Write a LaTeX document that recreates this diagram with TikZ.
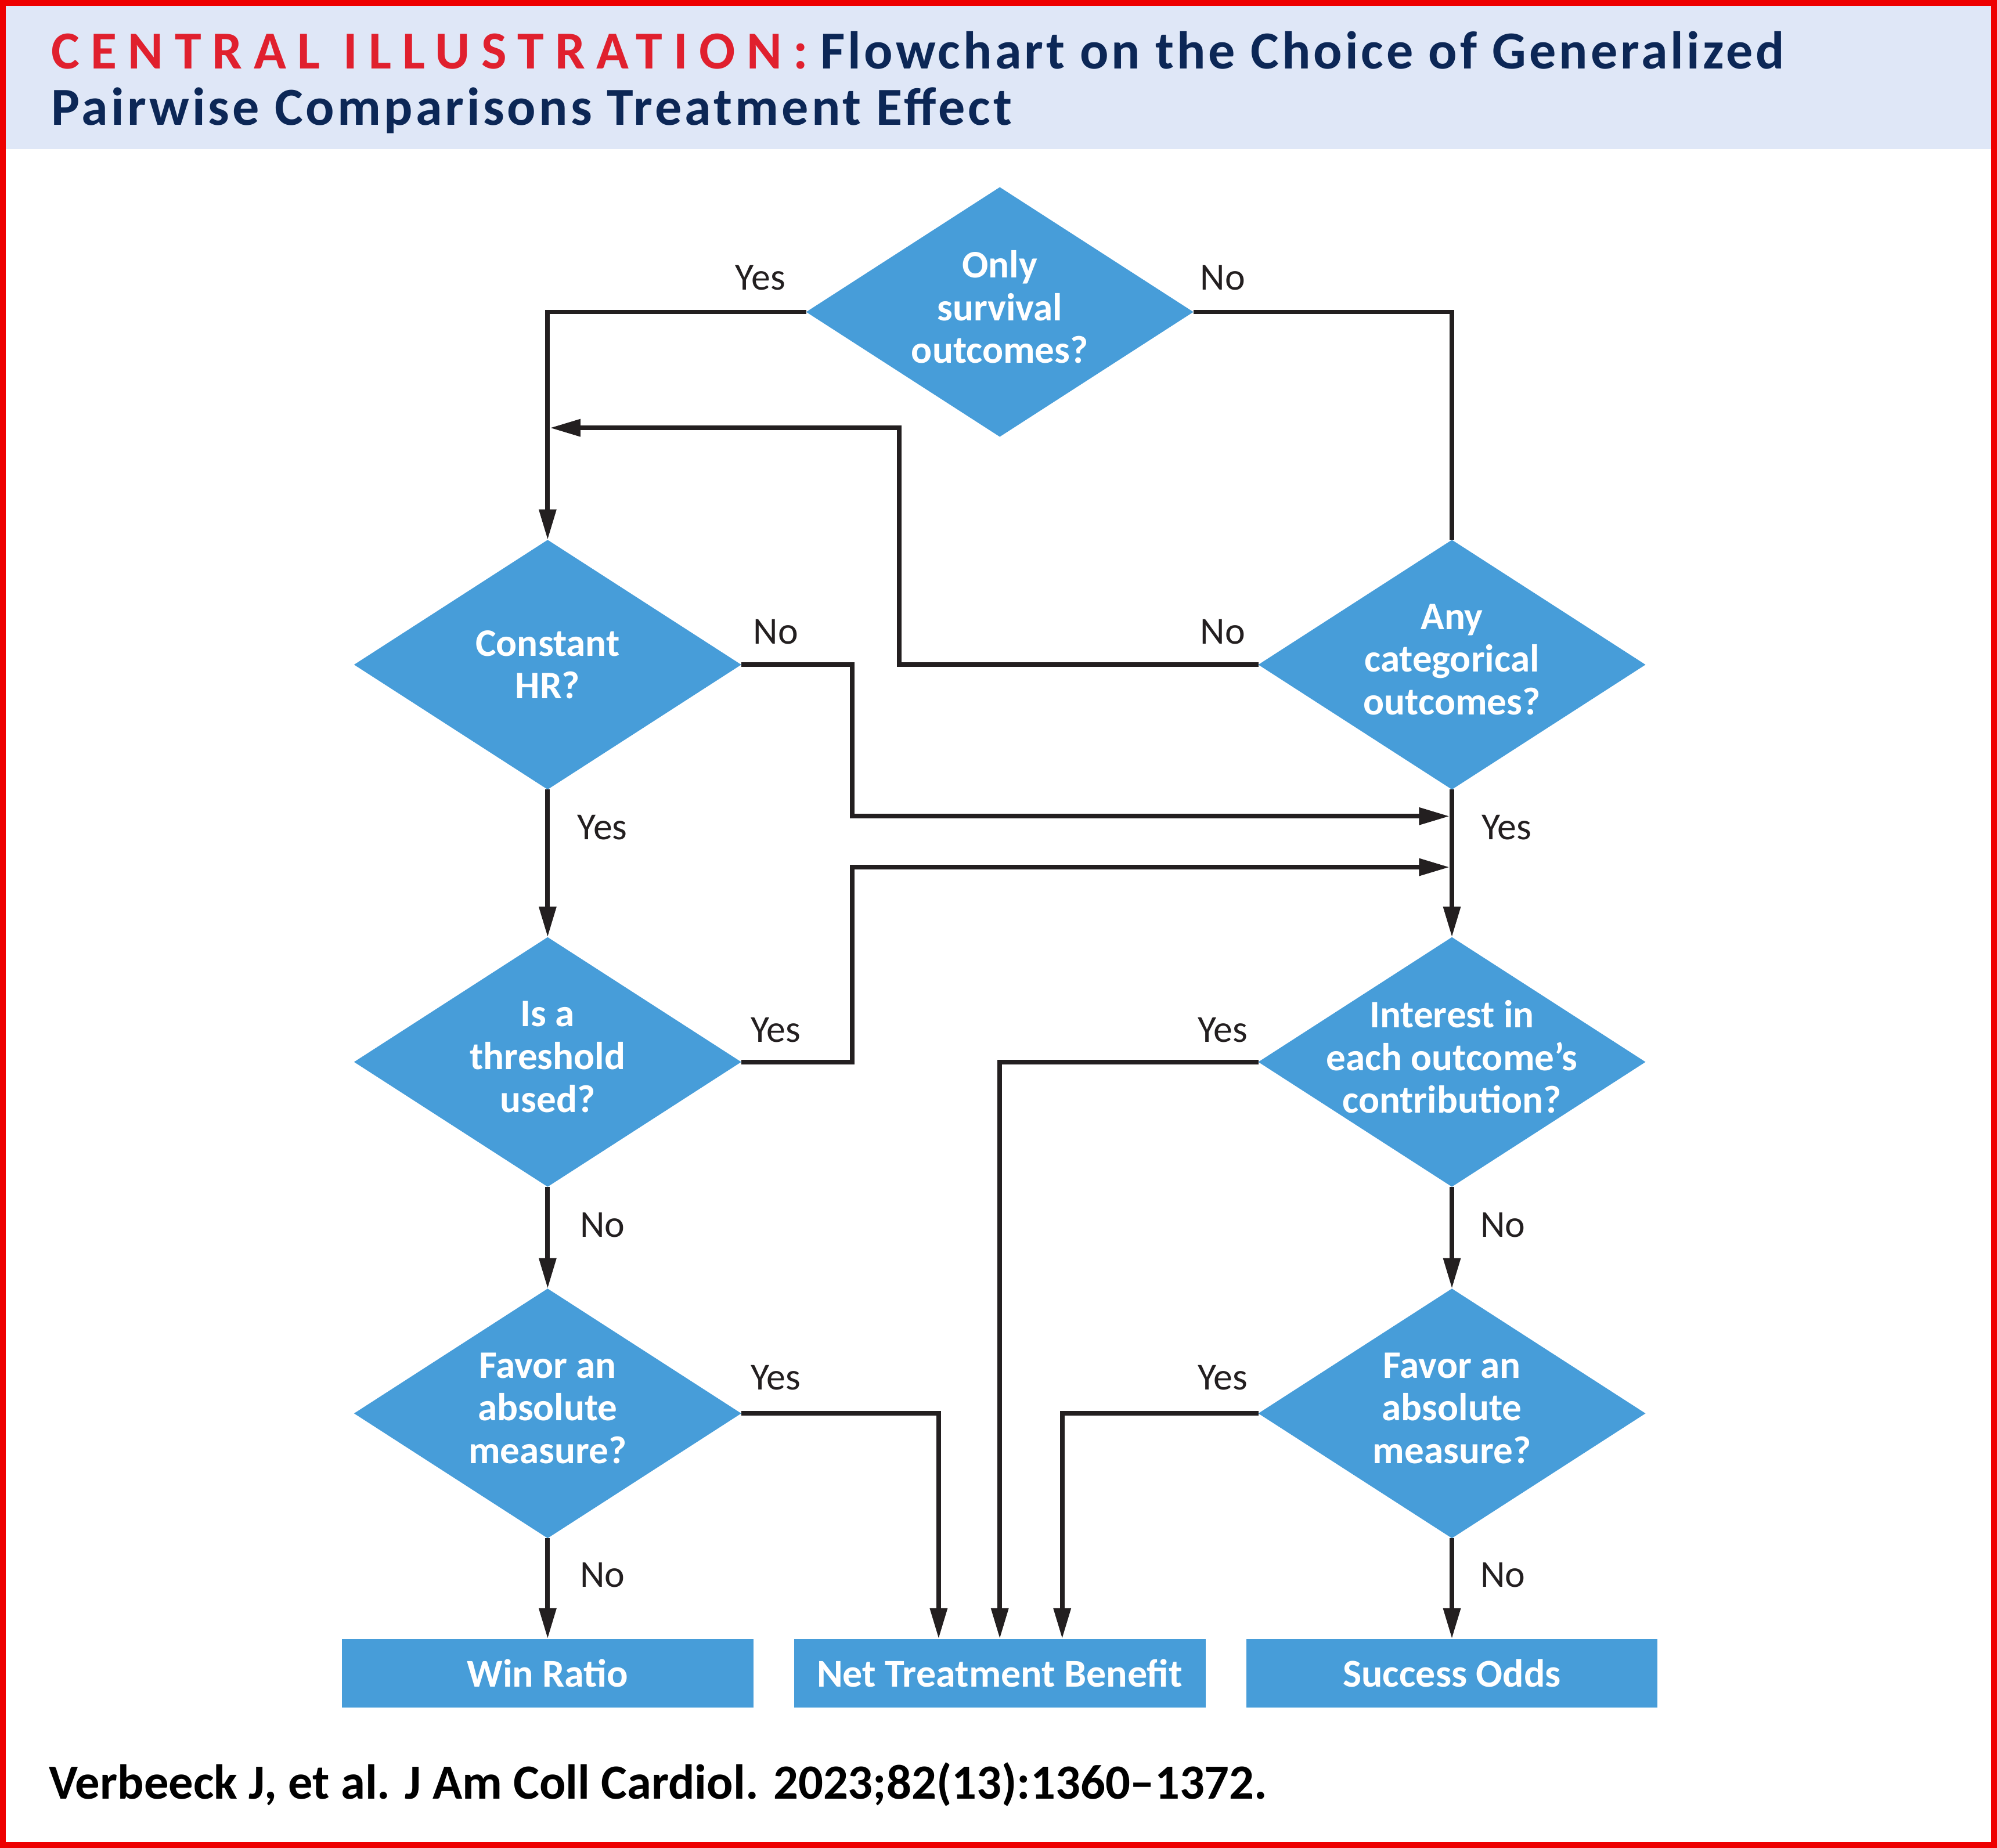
\documentclass[tikz,border=0pt]{standalone}
\usepackage{fontspec}
\setmainfont{Carlito}
\newfontfamily\redtrack{Carlito}[LetterSpace=21]
\newfontfamily\navytrack{Carlito}[LetterSpace=5.5]
\usetikzlibrary{shapes.geometric,arrows.meta}
\definecolor{frame}{HTML}{EE0000}
\definecolor{headbg}{HTML}{DFE7F7}
\definecolor{titlered}{HTML}{E0202E}
\definecolor{navy}{HTML}{0C2756}
\definecolor{fillblue}{HTML}{479DD9}
\definecolor{ink}{HTML}{231F20}
\tikzset{
  dia/.style={shape=diamond, fill=fillblue, draw=none, minimum width=152pt, minimum height=98pt, inner sep=0pt, outer sep=0pt},
  dtxt/.style={text=white, font=\fontsize{15.3}{16.8}\selectfont\bfseries, align=center, inner sep=0pt},
  box/.style={shape=rectangle, fill=fillblue, draw=none, minimum width=161.5pt, minimum height=27pt, inner sep=0pt, outer sep=0pt, text=white, font=\fontsize{15.5}{17}\selectfont\bfseries},
  lbl/.style={text=ink, font=\fontsize{15}{16.5}\selectfont, inner sep=0pt},
  conn/.style={draw=ink, line width=1.8pt, -{Triangle[length=12pt,width=6.5pt]}},
  plain/.style={draw=ink, line width=1.8pt}
}
\begin{document}
\begin{tikzpicture}[x=0.5pt,y=-0.5pt]
\useasboundingbox (0,0) rectangle (1568,1451.3);
\fill[headbg] (0,0) rectangle (1568,117);
\draw[frame, line width=2.25pt] (2.25,2.25) rectangle (1565.75,1449.05);
% title
\node[anchor=base west, inner sep=0pt] (title1) at (40,54) {\fontsize{21}{23}\selectfont\bfseries{\redtrack\color{titlered}CENTRAL ILLUSTRATION:}\hspace{5pt}{\navytrack\color{navy}Flowchart on the Choice of Generalized}};
\node[anchor=base west, inner sep=0pt] (title2) at (40,98) {\fontsize{21}{23}\selectfont\bfseries\navytrack\color{navy}Pairwise Comparisons Treatment Effect};
% diamonds
\node[dia] (d1) at (785,245) {};
\node[dtxt] (t1) at ([yshift=2pt]d1.center) {Only\\survival\\outcomes?};
\node[dia] (d2) at (430,522) {};
\node[dtxt] (t2) at (d2) {Constant\\HR?};
\node[dia] (d3) at (1140,522) {};
\node[dtxt] (t3) at ([yshift=2pt]d3.center) {Any\\categorical\\outcomes?};
\node[dia] (d4) at (430,834) {};
\node[dtxt] (t4) at ([yshift=2pt]d4.center) {Is a\\threshold\\used?};
\node[dia] (d5) at (1140,834) {};
\node[dtxt] (t5) at ([yshift=2pt]d5.center) {Interest in\\each outcome’s\\contribution?};
\node[dia] (d6) at (430,1110) {};
\node[dtxt] (t6) at ([yshift=2pt]d6.center) {Favor an\\absolute\\measure?};
\node[dia] (d7) at (1140,1110) {};
\node[dtxt] (t7) at ([yshift=2pt]d7.center) {Favor an\\absolute\\measure?};
% boxes
\node[box] (wr) at (430,1314) {Win Ratio};
\node[box] (ntb) at (785,1314) {Net Treatment Benefit};
\node[box] (so) at (1140,1314) {Success Odds};
% junction coordinates
\coordinate (j1) at (431.8,336);
\coordinate (j2) at (1138.2,641);
\coordinate (j3) at (1138.2,681);
\coordinate (n1) at (737,1287);
\coordinate (n3) at (834,1287);
% connectors
\draw[conn] (d1.west) -| (d2.north);
\draw[plain] (d1.east) -| (d3.north);
\draw[conn] (d3.west) -- (706,522) |- (j1);
\draw[conn] (d2.east) -- (669,522) |- (j2);
\draw[conn] (d4.east) -- (669,834) |- (j3);
\draw[conn] (d2.south) -- (d4.north);
\draw[conn] (d3.south) -- (d5.north);
\draw[conn] (d5.west) -| (ntb.north);
\draw[conn] (d4.south) -- (d6.north);
\draw[conn] (d5.south) -- (d7.north);
\draw[conn] (d6.east) -| (n1);
\draw[conn] (d7.west) -| (n3);
\draw[conn] (d6.south) -- (wr.north);
\draw[conn] (d7.south) -- (so.north);
% labels
\node[lbl] (l1) at (597,218) {Yes};
\node[lbl] (l2) at (960,218) {No};
\node[lbl] (l3) at (609,496) {No};
\node[lbl] (l4) at (960,496) {No};
\node[lbl] (l5) at (473,650) {Yes};
\node[lbl] (l6) at (1183,650) {Yes};
\node[lbl] (l7) at (609,809) {Yes};
\node[lbl] (l8) at (960,809) {Yes};
\node[lbl] (l9) at (473,962) {No};
\node[lbl] (l10) at (1180,962) {No};
\node[lbl] (l11) at (609,1082) {Yes};
\node[lbl] (l12) at (960,1082) {Yes};
\node[lbl] (l13) at (473,1237) {No};
\node[lbl] (l14) at (1180,1237) {No};
% citation
\node[anchor=base west, inner sep=0pt] (cite) at (38,1412.6) {\fontsize{19.3}{21}\selectfont\bfseries Verbeeck J, et al. J Am Coll Cardiol. 2023;82(13):1360–1372.};
\end{tikzpicture}
\end{document}
